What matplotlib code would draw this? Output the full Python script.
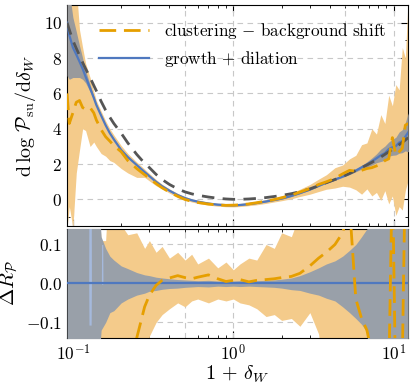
import numpy as np
import matplotlib
matplotlib.use('Agg')
import matplotlib.pyplot as plt
import matplotlib.ticker as ticker

plt.rcParams['font.family'] = 'serif'
plt.rcParams['font.serif'] = ['cmr10']
plt.rcParams['mathtext.fontset'] = 'cm'
plt.rcParams['axes.formatter.use_mathtext'] = True
plt.rcParams['axes.unicode_minus'] = True

# 1 + delta_W sample points
x = [0.092, 0.095, 0.1, 0.105, 0.11, 0.115, 0.12, 0.128, 0.135, 0.14,
     0.15, 0.16, 0.17, 0.18, 0.2, 0.22, 0.25, 0.28, 0.3, 0.33,
     0.36, 0.4, 0.45, 0.5, 0.55, 0.6, 0.7, 0.8, 0.9, 1.0,
     1.1, 1.25, 1.4, 1.6, 1.8, 2.0, 2.3, 2.6, 3.0, 3.4,
     3.8, 4.3, 4.8, 5.3, 5.8, 6.3, 6.8, 7.3, 7.8, 8.3,
     8.8, 9.3, 9.8, 10.3, 10.8, 11.3, 11.8, 12.3]

# top panel: d log P / d delta
growth = [10.0, 9.3, 8.6, 8.2, 7.8, 7.4, 6.95, 6.3, 5.75, 5.35,
          4.75, 4.2, 3.75, 3.4, 2.8, 2.4, 1.95, 1.55, 1.32, 1.0,
          0.75, 0.5, 0.25, 0.08, -0.04, -0.12, -0.23, -0.29, -0.32, -0.33,
          -0.31, -0.26, -0.2, -0.11, -0.03, 0.05, 0.2, 0.36, 0.56, 0.77,
          0.95, 1.13, 1.3, 1.47, 1.64, 1.82, 1.98, 2.15, 2.33, 2.5,
          2.62, 2.85, 2.95, 3.02, 3.22, 3.3, 3.55, 3.8]
growth_err = [3.0, 2.5, 1.7, 1.3, 0.9, 0.6, 0.35, 0.2, 0.1, 0.05,
              0.03, 0.03, 0.03, 0.03, 0.03, 0.03, 0.03, 0.03, 0.03, 0.03,
              0.03, 0.03, 0.03, 0.03, 0.03, 0.03, 0.03, 0.03, 0.03, 0.03,
              0.03, 0.03, 0.03, 0.03, 0.03, 0.03, 0.03, 0.03, 0.03, 0.03,
              0.03, 0.04, 0.05, 0.06, 0.07, 0.1, 0.15, 0.2, 0.25, 0.35,
              0.4, 0.4, 0.45, 0.5, 0.6, 0.65, 0.8, 1.1]
theory = [10.0, 9.6, 9.0, 8.55, 8.15, 7.75, 7.4, 6.9, 6.45, 6.15,
          5.55, 5.05, 4.65, 4.3, 3.75, 3.2, 2.55, 2.05, 1.8, 1.42,
          1.13, 0.85, 0.6, 0.43, 0.32, 0.24, 0.14, 0.07, 0.03, 0.01,
          0.01, 0.03, 0.06, 0.11, 0.17, 0.23, 0.33, 0.44, 0.6, 0.78,
          0.95, 1.13, 1.3, 1.47, 1.64, 1.8, 1.95, 2.1, 2.25, 2.4,
          2.55, 2.7, 2.83, 2.97, 3.1, 3.23, 3.36, 3.5]
clustering = [6.0, 4.3, 4.9, 5.5, 5.6, 5.2, 5.1, 5.2, 4.9, 4.5,
              3.95, 3.55, 3.3, 3.05, 2.7, 2.2, 1.75, 1.4, 1.2, 0.9,
              0.66, 0.42, 0.18, 0.0, -0.1, -0.17, -0.26, -0.31, -0.33, -0.32,
              -0.3, -0.25, -0.18, -0.09, 0.0, 0.1, 0.24, 0.42, 0.62, 0.85,
              1.0, 1.2, 1.45, 1.65, 1.6, 1.65, 1.75, 1.8, 1.9, 2.0,
              2.2, 2.3, 3.5, 2.5, 2.7, 2.9, 4.2, 4.3]
clustering_lo = [-1.6, -0.4, -1.6, 1.5, 2.8, 4.0, 3.9, 3.0, 3.25, 3.0,
                 2.6, 2.45, 2.2, 2.1, 1.75, 1.5, 1.25, 1.25, 1.05, 0.78,
                 0.6, 0.36, 0.12, -0.04, -0.14, -0.22, -0.32, -0.38, -0.41, -0.42,
                 -0.4, -0.35, -0.3, -0.22, -0.14, -0.07, 0.04, 0.17, 0.3, 0.45,
                 0.58, 0.65, 0.75, 0.7, 0.55, 0.3, 0.6, 0.2, 0.4, -0.05,
                 0.5, -0.25, 0.2, -0.9, -0.4, -0.6, 0.5, 1.1]
clustering_hi = [12, 12, 12, 12, 9.6, 8.6, 7.7, 6.9, 6.1, 5.6,
                 5.0, 4.45, 4.0, 3.65, 3.05, 2.6, 2.12, 1.72, 1.47, 1.13,
                 0.86, 0.6, 0.34, 0.16, 0.04, -0.04, -0.15, -0.21, -0.23, -0.24,
                 -0.22, -0.16, -0.1, 0.0, 0.1, 0.2, 0.38, 0.58, 0.85, 1.15,
                 1.4, 1.8, 1.95, 2.3, 2.5, 3.1, 3.2, 4.0, 3.7, 4.8,
                 4.3, 5.9, 5.3, 6.5, 6.2, 8.6, 8.0, 11.5]

# bottom panel: Delta R_P
growth_resid = [0.0] * len(x)
growth_resid_lo = [-0.3] * 10 + [
    -0.12, -0.1, -0.075, -0.07, -0.05, -0.04, -0.03, -0.025, -0.02, -0.018,
    -0.015, -0.013, -0.012, -0.01, -0.009, -0.008, -0.009, -0.007, -0.008, -0.007,
    -0.008, -0.007, -0.008, -0.009, -0.01, -0.012, -0.016, -0.018, -0.025, -0.03,
    -0.038, -0.045, -0.06, -0.075, -0.09, -0.105, -0.125, -0.3, -0.3, -0.3] + [-0.3] * 8
growth_resid_hi = [0.3] * 10 + [
    0.12, 0.09, 0.07, 0.06, 0.045, 0.038, 0.028, 0.022, 0.02, 0.016,
    0.014, 0.012, 0.01, 0.009, 0.008, 0.007, 0.008, 0.006, 0.007, 0.006,
    0.007, 0.006, 0.007, 0.008, 0.009, 0.011, 0.014, 0.02, 0.03, 0.04,
    0.05, 0.058, 0.07, 0.085, 0.1, 0.12, 0.14, 0.3, 0.3, 0.3] + [0.3] * 8
clustering_resid = [-0.4, -0.5, -0.45, -0.35, -0.3, -0.3, -0.28, -0.2, -0.18, -0.2,
                    -0.25, -0.22, -0.2, -0.2, -0.18, -0.16, -0.14, -0.06, -0.03, -0.005,
                    0.008, 0.014, 0.02, 0.015, 0.012, 0.016, 0.022, 0.012, 0.005, 0.008,
                    0.01, 0.004, 0.008, 0.01, 0.012, 0.015, 0.018, 0.026, 0.045, 0.065,
                    0.08, 0.1, 0.13, 0.2, -0.04, -0.09, -0.12, -0.18, -0.3, -0.35,
                    -0.3, -0.25, 0.3, -0.3, -0.3, -0.2, 0.3, 0.3]
clustering_resid_lo = [-0.3] * 10 + [
    -0.3, -0.3, -0.3, -0.3, -0.3, -0.3, -0.3, -0.3, -0.135, -0.1,
    -0.08, -0.065, -0.05, -0.06, -0.045, -0.04, -0.05, -0.04, -0.045, -0.04,
    -0.05, -0.055, -0.065, -0.085, -0.08, -0.095, -0.09, -0.11, -0.075, -0.13] + [-0.3] * 18
clustering_resid_hi = [0.3] * 10 + [
    0.11, 0.11, 0.3, 0.14, 0.15, 0.125, 0.13, 0.09, 0.11, 0.08,
    0.095, 0.065, 0.08, 0.06, 0.075, 0.05, 0.065, 0.04, 0.055, 0.035,
    0.05, 0.065, 0.06, 0.1, 0.09, 0.13, 0.12, 0.18, 0.3, 0.3] + [0.3] * 18

# narrow outliers of the growth band
spike_x = [0.092, 0.1255, 0.126, 0.130, 0.1305, 0.1505, 0.151, 0.1535, 0.154, 12.3]
spike_lo = [0, 0, -0.107, -0.107, 0, 0, -0.002, -0.002, 0, 0]
spike_hi = [0, 0, 0.3, 0.3, 0, 0, 0.1, 0.1, 0, 0]

grid_x = [0.1, 0.5, 1, 5, 10]

c_orange = '#e69f00'
c_orange_band = '#f4cb8b'
c_blue = '#4f78bf'
c_gray_top = '#999a9c'
c_gray_bot = '#99a0a9'
c_theory = '#555555'
c_grid = '#c8c8c8'

fig = plt.figure(figsize=(4.14, 3.88), dpi=100)
ax = fig.add_axes([0.162, 0.4175, 0.824, 0.5695])
ax2 = fig.add_axes([0.162, 0.129, 0.824, 0.281], sharex=ax)

# top panel
ax.fill_between(x, clustering_lo, clustering_hi, color=c_orange_band, lw=0, zorder=2)
ax.fill_between(x, np.array(growth) - np.array(growth_err), np.array(growth) + np.array(growth_err),
                color=c_gray_top, lw=0, zorder=3)
ax.plot(x, growth, color=c_blue, lw=1.6, zorder=4, label=r'$\mathrm{growth}\,+\,\mathrm{dilation}$')
ax.plot(x, theory, color=c_theory, lw=2.0, dashes=(4.5, 3), zorder=5)
ax.plot(x, clustering, color=c_orange, lw=2.0, dashes=(6, 2.8), zorder=6,
        label=r'$\mathrm{clustering}\,-\,\mathrm{background\ shift}$')

# bottom panel
ax2.fill_between(x, clustering_resid_lo, clustering_resid_hi, color=c_orange_band, lw=0, zorder=2)
ax2.fill_between(x, growth_resid_lo, growth_resid_hi, color=c_gray_bot, lw=0, zorder=3)
ax2.fill_between(spike_x, spike_lo, spike_hi, color='#a5b9dc', lw=0, zorder=3.5)
ax2.plot(x, growth_resid, color=c_blue, lw=1.6, zorder=4)
ax2.plot(x, clustering_resid, color=c_orange, lw=2.0, dashes=(6, 2.8), zorder=6)

for a in (ax, ax2):
    a.set_xscale('log')
    a.set_xlim(0.092, 12.3)
    for gx in grid_x:
        a.axvline(gx, color=c_grid, lw=0.8, dashes=(5, 4), zorder=1)
    a.yaxis.grid(True, color=c_grid, lw=0.8, linestyle=(0, (5, 4)), zorder=1)
    a.set_axisbelow(True)
    a.tick_params(which='both', direction='in', top=True, right=True, labelsize=12.5)
    a.tick_params(which='major', length=5, width=0.8)
    a.tick_params(which='minor', length=2.5, width=0.6)
    a.xaxis.set_minor_formatter(ticker.NullFormatter())

ax.set_ylim(-1.5, 11)
ax.yaxis.set_major_locator(ticker.MultipleLocator(2))
ax.yaxis.set_minor_locator(ticker.MultipleLocator(1))
ax.tick_params(labelbottom=False)
ax.set_ylabel(r'$\mathrm{d}\,\log\,\mathcal{P}_\mathrm{su}/\mathrm{d}\delta_W$', fontsize=14.5, labelpad=4)

ax2.set_ylim(-0.14, 0.14)
ax2.set_yticks([-0.1, 0.0, 0.1])
ax2.yaxis.set_minor_locator(ticker.MultipleLocator(0.05))
ax2.set_ylabel(r'$\Delta R_\mathcal{P}$', fontsize=15)
ax2.set_xlabel(r'$1\,+\,\delta_W$', fontsize=14.5, labelpad=0)

handles, labels = ax.get_legend_handles_labels()
ax.legend(handles[::-1], labels[::-1], loc='upper left', bbox_to_anchor=(0.075, 0.96),
          frameon=False, fontsize=12.3, handlelength=2.9, handletextpad=0.9,
          borderaxespad=0.0)

fig.align_ylabels([ax, ax2])
fig.savefig('out.png', dpi=100, facecolor='white')
